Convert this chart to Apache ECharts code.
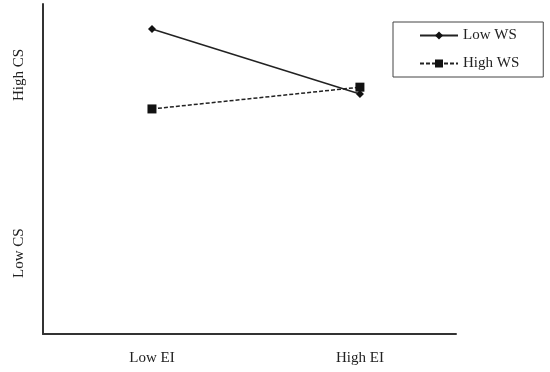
<!DOCTYPE html>
<html><head><meta charset="utf-8">
<script src="https://cdn.jsdelivr.net/npm/echarts@6/dist/echarts.min.js"></script>
<style>html,body{margin:0;padding:0;background:#fff}#c{width:550px;height:372px}</style>
</head><body><div id="c"></div>
<script>
var categories = ['Low EI', 'High EI'];
var categoryPos = [1, 2];
var lowWS = [92.4, 72.7];
var highWS = [68.2, 74.8];
var yTickLabels = ['Low CS', 'High CS'];
var yTickPos = [24.5, 78.5];

var FONT = 'Liberation Serif';
var chart = echarts.init(document.getElementById('c'));
function pts(vals){ return vals.map(function(v,i){ return [categoryPos[i], v]; }); }
chart.setOption({
  animation: false,
  grid: {left: 43, right: 94, top: 4, bottom: 38, containLabel: false, outerBoundsMode: 'none'},
  xAxis: {
    type: 'value', min: 0.476, max: 2.462,
    splitLine: {show: false},
    axisTick: {show: false},
    axisLine: {lineStyle: {color: '#333', width: 2}},
    axisLabel: {
      customValues: categoryPos,
      formatter: function(v){ var i = categoryPos.indexOf(v); return i >= 0 ? categories[i] : ''; },
      fontFamily: FONT, fontSize: 15, color: '#222', margin: 17
    }
  },
  yAxis: {
    type: 'value', min: 0, max: 100,
    splitLine: {show: false},
    axisTick: {show: false},
    axisLine: {show: true, lineStyle: {color: '#333', width: 2}},
    axisLabel: {
      customValues: yTickPos,
      rotate: 90,
      formatter: function(v){ var i = yTickPos.indexOf(v); return i >= 0 ? yTickLabels[i] : ''; },
      fontFamily: FONT, fontSize: 15, color: '#222', margin: 16
    }
  },
  legend: {
    orient: 'vertical', left: 393, top: 22,
    padding: [6, 24, 6, 26],
    itemWidth: 38, itemHeight: 10, itemGap: 13,
    borderColor: '#444', borderWidth: 1,
    textStyle: {fontFamily: FONT, fontSize: 15, color: '#222'},
    data: ['Low WS', 'High WS']
  },
  series: [
    {name: 'Low WS', type: 'line', data: pts(lowWS), symbol: 'diamond', symbolSize: 8,
     itemStyle: {color: '#111'}, lineStyle: {color: '#222', width: 1.5}},
    {name: 'High WS', type: 'line', data: pts(highWS), symbol: 'rect', symbolSize: 9,
     itemStyle: {color: '#111'}, lineStyle: {color: '#222', width: 1.5, type: [4, 2]}}
  ]
});
</script></body></html>
